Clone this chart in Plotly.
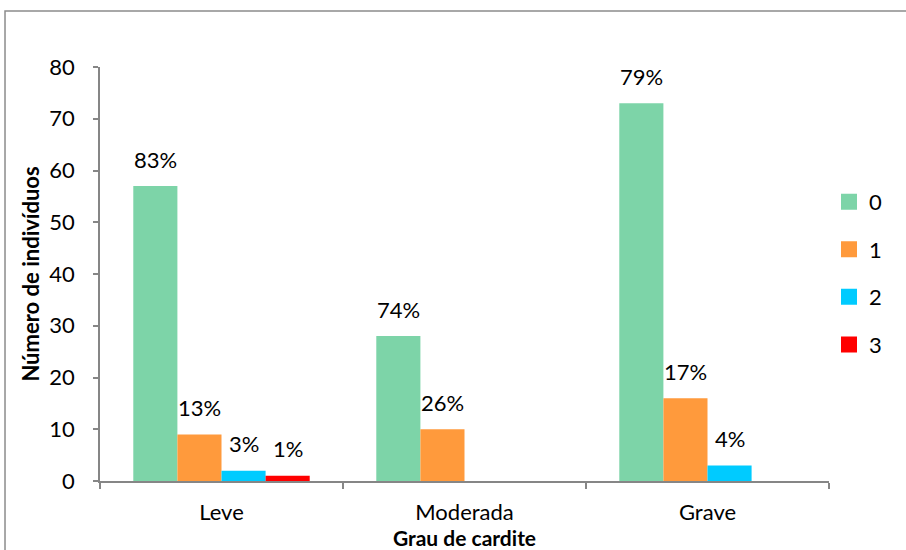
import plotly.graph_objects as go

# Grau de cardite vs. número de indivíduos por escore (0-3)
categories = ["Leve", "Moderada", "Grave"]
series_names = ["0", "1", "2", "3"]
values = {
    "0": [57, 28, 73],
    "1": [9, 10, 16],
    "2": [2, 0, 3],
    "3": [1, 0, 0],
}
pct_labels = {
    "0": ["83%", "74%", "79%"],
    "1": ["13%", "26%", "17%"],
    "2": ["3%", "", "4%"],
    "3": ["1%", "", ""],
}
colors = {"0": "#7dd4a8", "1": "#ff9a3c", "2": "#00cbff", "3": "#ff0000"}
y_ticks = [0, 10, 20, 30, 40, 50, 60, 70, 80]

FONT = "Lato, 'Open Sans', sans-serif"
AXIS = "#868686"
BARGAP = 0.274

fig = go.Figure()
for name in series_names:
    fig.add_trace(go.Bar(
        name=name,
        x=categories,
        y=values[name],
        marker=dict(color=colors[name], line=dict(width=0)),
        showlegend=False,
    ))
    # legend entry with a larger square swatch
    fig.add_trace(go.Scatter(
        name=name, x=[None], y=[None], mode="markers",
        marker=dict(symbol="square", size=16, color=colors[name]),
        legendgroup=name, showlegend=True,
    ))

# percentage labels above each bar, placed at the bar's offset within its group
n = len(series_names)
bar_w = (1 - BARGAP) / n
annotations = []
for i, name in enumerate(series_names):
    offset = (i - (n - 1) / 2) * bar_w
    for j, cat in enumerate(categories):
        label = pct_labels[name][j]
        if not label:
            continue
        annotations.append(dict(
            x=j + offset, y=values[name][j], xref="x", yref="y",
            text=label, showarrow=False, yanchor="middle", yshift=27,
            font=dict(family=FONT, size=22, color="#000000"),
        ))

fig.update_layout(
    width=906,
    height=550,
    barmode="group",
    bargap=BARGAP,
    bargroupgap=0,
    paper_bgcolor="white",
    plot_bgcolor="white",
    margin=dict(l=100, r=77, t=67, b=69, autoexpand=False),
    font=dict(family=FONT, size=22, color="#000000"),
    annotations=annotations,
    legend=dict(
        x=1.0, y=0.725, xanchor="left", yanchor="top",
        font=dict(family=FONT, size=22),
        traceorder="grouped", tracegroupgap=16,
        itemsizing="trace", itemwidth=30,
        bgcolor="rgba(0,0,0,0)",
    ),
    xaxis=dict(
        showline=True, linecolor=AXIS, linewidth=1.5,
        ticks="outside", tickson="boundaries", ticklen=6, tickcolor=AXIS, tickwidth=1.5,
        ticklabelstandoff=11,
        tickfont=dict(family=FONT, size=22),
        title=dict(text="<b>Grau de cardite</b>", font=dict(family=FONT, size=21), standoff=4),
        showgrid=False, zeroline=False, automargin=False,
    ),
    yaxis=dict(
        range=[0, 80], tickvals=y_ticks,
        showline=True, linecolor=AXIS, linewidth=1.5,
        ticks="outside", ticklen=5, tickcolor=AXIS, tickwidth=1.5,
        ticklabelstandoff=14,
        tickfont=dict(family=FONT, size=22),
        title=dict(text="<b>Número de indivíduos</b>", font=dict(family=FONT, size=22), standoff=4),
        showgrid=False, zeroline=False, automargin=False,
    ),
    shapes=[dict(
        type="rect", xref="paper", yref="paper",
        x0=-0.1303, x1=1.2, y0=-0.3, y1=1.135,
        line=dict(color="#8c8c8c", width=1.5), fillcolor="rgba(0,0,0,0)", layer="below",
    )],
)

fig.write_html("out.html")
